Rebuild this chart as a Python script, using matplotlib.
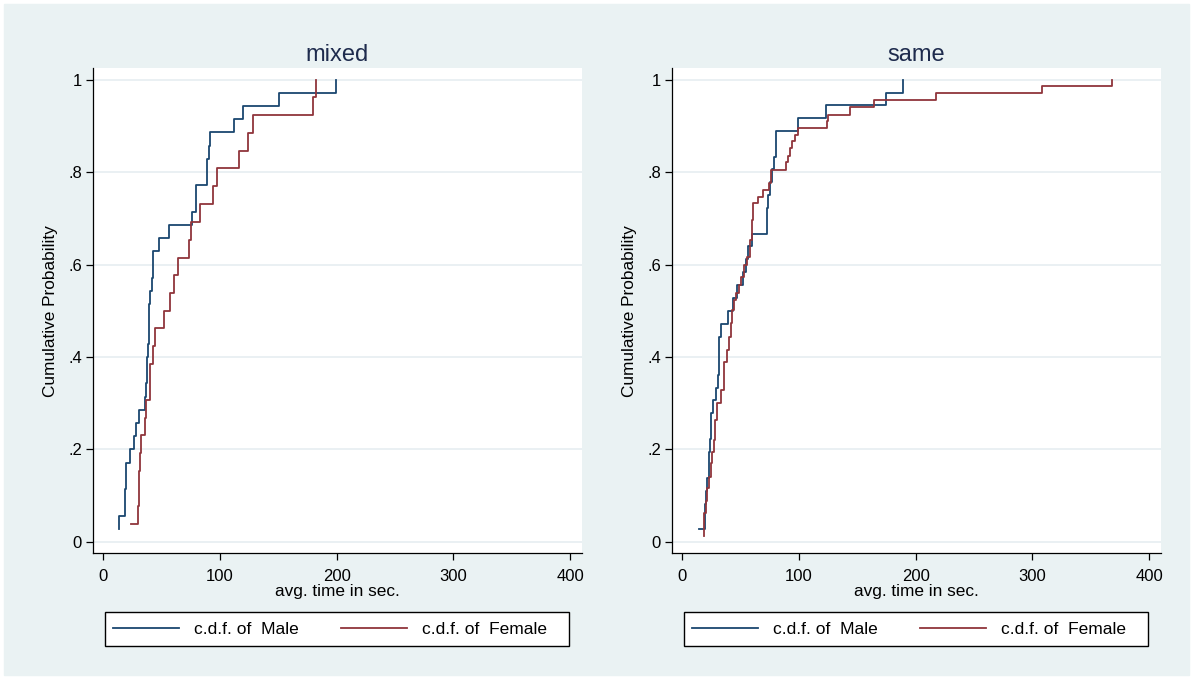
import matplotlib

matplotlib.use("Agg")
import matplotlib.pyplot as plt
from matplotlib.patches import Rectangle

# step points: (avg. time in sec., cumulative probability)
mixed_male_x = [13.6, 13.6, 18.8, 19.6, 23.1, 26.8, 28.2, 30.5, 35.6, 36.8, 37.9, 38.8,
                39.6, 40.5, 41.6, 42.5, 48.2, 56.2, 76.5, 79.6, 89.3, 91.0, 91.9, 112.5,
                119.6, 151.0, 199.3]
mixed_male_y = [0.029, 0.057, 0.114, 0.171, 0.2, 0.229, 0.257, 0.286, 0.314, 0.343, 0.4, 0.429,
                0.514, 0.543, 0.571, 0.629, 0.657, 0.686, 0.714, 0.771, 0.829, 0.857, 0.886, 0.914,
                0.943, 0.971, 1.0]

mixed_female_x = [23.9, 29.6, 30.5, 31.6, 32.8, 35.9, 36.8, 40.2, 42.5, 44.5, 52.2, 57.3,
                  60.8, 64.2, 73.9, 75.6, 83.0, 94.5, 97.3, 116.7, 124.4, 128.2, 180.1, 182.4]
mixed_female_y = [0.038, 0.077, 0.154, 0.192, 0.231, 0.269, 0.308, 0.385, 0.423, 0.462, 0.5, 0.538,
                  0.577, 0.615, 0.654, 0.692, 0.731, 0.769, 0.808, 0.846, 0.885, 0.923, 0.962, 1.0]

same_male_x = [14.5, 19.6, 20.8, 21.6, 23.0, 23.9, 24.5, 25.0, 26.5, 28.7, 31.0, 31.6, 33.6,
               39.3, 43.9, 47.3, 52.4, 54.4, 56.7, 60.1, 72.4, 73.8, 75.2, 77.2, 78.6, 80.6,
               99.5, 123.1, 175.0, 189.3]
same_male_y = [0.028, 0.083, 0.111, 0.139, 0.194, 0.222, 0.25, 0.278, 0.306, 0.333, 0.361, 0.444,
               0.472, 0.5, 0.528, 0.556, 0.583, 0.611, 0.639, 0.667, 0.722, 0.75, 0.778, 0.806,
               0.833, 0.889, 0.917, 0.944, 0.972, 1.0]

same_female_x = [18.3, 18.8, 20.2, 21.6, 23.0, 24.5, 25.9, 27.3, 28.2, 30.2, 33.6, 35.9, 38.2,
                 40.1, 41.6, 43.0, 44.4, 46.4, 48.7, 50.7, 53.0, 55.8, 58.1, 59.8, 61.0, 65.0,
                 69.5, 74.4, 75.8, 88.6, 90.6, 92.3, 94.3, 96.3, 99.5, 123.7, 125.1, 144.2,
                 164.2, 217.8, 308.2, 368.6]
same_female_y = [0.013, 0.062, 0.088, 0.116, 0.141, 0.17, 0.195, 0.22, 0.264, 0.3, 0.329, 0.39,
                 0.416, 0.444, 0.473, 0.502, 0.524, 0.538, 0.556, 0.574, 0.6, 0.617, 0.654, 0.697,
                 0.733, 0.747, 0.762, 0.776, 0.805, 0.821, 0.834, 0.852, 0.867, 0.881, 0.895, 0.91,
                 0.924, 0.94, 0.955, 0.971, 0.986, 1.0]

panel_titles = ["mixed", "same"]
x_ticks = [0, 100, 200, 300, 400]
y_ticks = [0, 0.2, 0.4, 0.6, 0.8, 1]
y_tick_labels = ["0", ".2", ".4", ".6", ".8", "1"]
legend_labels = ["c.d.f. of  Male", "c.d.f. of  Female"]

BG = "#EAF2F3"
GRID = "#E6EEF1"
MALE_COLOR = "#1A476F"
FEMALE_COLOR = "#90353B"
TITLE_COLOR = "#1E2B4D"

plt.rcParams["font.family"] = ["Liberation Sans", "DejaVu Sans"]

W, H = 1193, 679
fig = plt.figure(figsize=(W / 100, H / 100), dpi=100)
fig.patch.set_facecolor("white")
fig.patches.append(Rectangle((4 / W, 4 / H), (W - 8) / W, (H - 8) / H,
                             transform=fig.transFigure, color=BG, zorder=-10))

panels = [
    (93, panel_titles[0], mixed_male_x, mixed_male_y, mixed_female_x, mixed_female_y),
    (672, panel_titles[1], same_male_x, same_male_y, same_female_x, same_female_y),
]

ax_top, ax_bottom, ax_width = 68, 553.3, 488.7

for left_px, title, mx, my, fx, fy in panels:
    ax = fig.add_axes([left_px / W, 1 - ax_bottom / H, ax_width / W, (ax_bottom - ax_top) / H])
    ax.set_facecolor("white")

    ax.step(mx, my, where="post", color=MALE_COLOR, lw=1.3, label=legend_labels[0])
    ax.step(fx, fy, where="post", color=FEMALE_COLOR, lw=1.3, label=legend_labels[1])

    ax.set_xlim(-8.7, 410)
    ax.set_ylim(-0.0245, 1.025)
    ax.set_xticks(x_ticks)
    ax.set_yticks(y_ticks)
    ax.set_yticklabels(y_tick_labels)
    ax.yaxis.grid(True, color=GRID, lw=1.2)
    ax.set_axisbelow(True)

    for side in ("top", "right"):
        ax.spines[side].set_visible(False)
    for side in ("left", "bottom"):
        ax.spines[side].set_color("black")
        ax.spines[side].set_linewidth(0.9)
    ax.tick_params(axis="both", direction="out", length=5, width=0.9, colors="black",
                   labelsize=12)
    ax.tick_params(axis="x", pad=6.5)
    ax.tick_params(axis="y", pad=3)

    ax.set_title(title, fontsize=17, color=TITLE_COLOR, pad=5)
    ax.set_xlabel("avg. time in sec.", fontsize=12.4, labelpad=0)
    ax.set_ylabel("Cumulative Probability", fontsize=12.4, labelpad=7)

    # legend box drawn by hand (below the axes layer), entries placed inside it
    box_left = left_px + 12
    fig.patches.append(Rectangle((box_left / W, 1 - 646 / H), 464 / W, 34 / H,
                                 transform=fig.transFigure, facecolor="white",
                                 edgecolor="black", lw=1.0, zorder=-5))
    ax.legend(loc="center left", ncol=2, fontsize=12.5, frameon=False,
              bbox_to_anchor=((box_left + 8) / W, 1 - 629 / H),
              bbox_transform=fig.transFigure, handlelength=3.8, handletextpad=0.85,
              columnspacing=2.45, borderpad=0, borderaxespad=0)

fig.savefig("out.png", dpi=100, facecolor=fig.get_facecolor())
